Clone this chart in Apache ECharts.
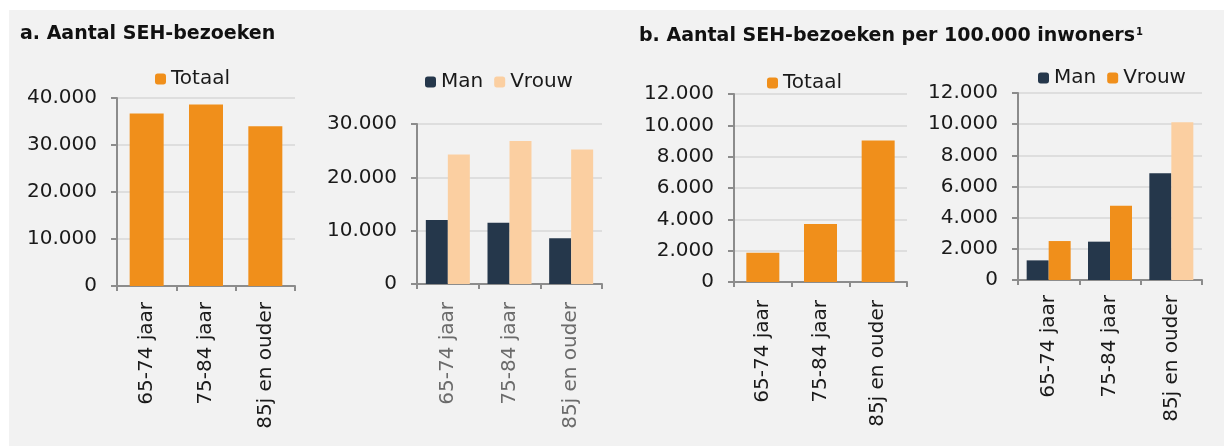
<!DOCTYPE html>
<html>
<head>
<meta charset="utf-8">
<script src="https://cdn.jsdelivr.net/npm/echarts@6/dist/echarts.min.js"></script>
<style>
  html, body { margin: 0; padding: 0; background: #fff; }
  #chart { width: 1224px; height: 446px; }
</style>
</head>
<body>
<div id="chart"></div>
<script>
// categorieen en waarden
const categories = ['65-74 jaar', '75-84 jaar', '85j en ouder'];

// a. aantal SEH-bezoeken
const totaalAantal = [36700, 38600, 34000];
const manAantal = [12000, 11500, 8600];
const vrouwAantal = [24300, 26800, 25200];

// b. per 100.000 inwoners
const totaalPer100k = [1870, 3710, 9030];
const manPer100k = [1260, 2460, 6850];
const vrouwPer100k = [2500, 4760, 10120];

const ORANGE = '#F08F1B';
const NAVY = '#25374B';
const PEACH = '#FBCFA1';
const FONT = 'DejaVu Sans';

function fmt(v) {
    return String(v).replace(/\B(?=(\d{3})+(?!\d))/g, '.');
}

const chart = echarts.init(document.getElementById('chart'));

function xAxis(gridIndex, labelColor, margin) {
    return {
        type: 'category',
        gridIndex: gridIndex,
        data: categories,
        axisLine: { lineStyle: { color: '#8c8c8c', width: 2 } },
        axisTick: { show: true, length: 5, lineStyle: { color: '#8c8c8c', width: 2 } },
        axisLabel: { rotate: 90, margin: margin, fontSize: 20, fontFamily: FONT, color: labelColor }
    };
}

function yAxis(gridIndex, max, interval) {
    return {
        type: 'value',
        gridIndex: gridIndex,
        min: 0,
        max: max,
        interval: interval,
        axisLine: { show: true, lineStyle: { color: '#8c8c8c', width: 2 } },
        axisTick: { show: true, length: 6, lineStyle: { color: '#8c8c8c', width: 2 } },
        splitLine: { lineStyle: { color: '#dedede', width: 2 } },
        axisLabel: { fontSize: 20, fontFamily: FONT, color: '#1a1a1a', margin: 20, formatter: fmt }
    };
}

const legendText = { fontSize: 20, fontFamily: FONT, color: '#1a1a1a' };

const option = {
    backgroundColor: '#fff',
    animation: false,
    graphic: [
        { type: 'rect', shape: { x: 9, y: 10, width: 1220, height: 440 }, style: { fill: '#F2F2F2' }, z: -10 }
    ],
    title: [
        {
            text: 'a. Aantal SEH-bezoeken',
            left: 15, top: 20,
            textStyle: { fontSize: 19, fontWeight: 'bold', fontFamily: FONT, color: '#111' }
        },
        {
            text: '{t|b. Aantal SEH-bezoeken per 100.000 inwoners}{s|1}',
            left: 634, top: 22,
            textStyle: {
                rich: {
                    t: { fontSize: 19, fontWeight: 'bold', fontFamily: FONT, color: '#111' },
                    s: { fontSize: 10, fontFamily: FONT, color: '#111', verticalAlign: 'top', padding: [0, 0, 0, 1] }
                }
            }
        }
    ],
    legend: [
        {
            left: 150, top: 64, itemWidth: 11, itemHeight: 11, selectedMode: false,
            textStyle: legendText,
            data: [{ name: 'Totaal', itemStyle: { color: ORANGE } }]
        },
        {
            left: 420, top: 67, itemWidth: 11, itemHeight: 11, itemGap: 11, selectedMode: false,
            textStyle: legendText,
            data: [{ name: 'Man', itemStyle: { color: NAVY } }, { name: 'Vrouw', itemStyle: { color: PEACH } }]
        },
        {
            left: 762, top: 68, itemWidth: 11, itemHeight: 11, selectedMode: false,
            textStyle: legendText,
            data: [{ name: 'Totaal', itemStyle: { color: ORANGE } }]
        },
        {
            left: 1033, top: 63, itemWidth: 11, itemHeight: 11, itemGap: 11, selectedMode: false,
            textStyle: legendText,
            data: [{ name: 'Man', itemStyle: { color: NAVY } }, { name: 'Vrouw', itemStyle: { color: ORANGE } }]
        }
    ],
    grid: [
        { left: 117, top: 98, width: 178, height: 188 },
        { left: 417, top: 124, width: 185, height: 160 },
        { left: 734, top: 94, width: 173, height: 188 },
        { left: 1018, top: 93, width: 184, height: 187 }
    ],
    xAxis: [
        xAxis(0, '#1a1a1a', 16),
        xAxis(1, '#6b6b6b', 18),
        xAxis(2, '#1a1a1a', 18),
        xAxis(3, '#1a1a1a', 15)
    ],
    yAxis: [
        yAxis(0, 40000, 10000),
        yAxis(1, 30000, 10000),
        yAxis(2, 12000, 2000),
        yAxis(3, 12000, 2000)
    ],
    series: [
        {
            name: 'Totaal', type: 'bar', xAxisIndex: 0, yAxisIndex: 0,
            barWidth: 34, itemStyle: { color: ORANGE }, data: totaalAantal
        },
        {
            name: 'Man', type: 'bar', xAxisIndex: 1, yAxisIndex: 1,
            barWidth: 22, barGap: 0, itemStyle: { color: NAVY }, data: manAantal
        },
        {
            name: 'Vrouw', type: 'bar', xAxisIndex: 1, yAxisIndex: 1,
            barWidth: 22, barGap: 0, itemStyle: { color: PEACH }, data: vrouwAantal
        },
        {
            name: 'Totaal', type: 'bar', xAxisIndex: 2, yAxisIndex: 2,
            barWidth: 33, itemStyle: { color: ORANGE }, data: totaalPer100k
        },
        {
            name: 'Man', type: 'bar', xAxisIndex: 3, yAxisIndex: 3,
            barWidth: 22, barGap: 0, itemStyle: { color: NAVY }, data: manPer100k
        },
        {
            name: 'Vrouw', type: 'bar', xAxisIndex: 3, yAxisIndex: 3,
            barWidth: 22, barGap: 0, itemStyle: { color: ORANGE },
            // laatste staaf lichter gekleurd, zoals in het origineel
            data: vrouwPer100k.map((v, i) => i === 2 ? { value: v, itemStyle: { color: PEACH } } : v)
        }
    ]
};

chart.setOption(option);

window.addEventListener('resize', function() {
    chart.resize();
});
</script>
</body>
</html>
